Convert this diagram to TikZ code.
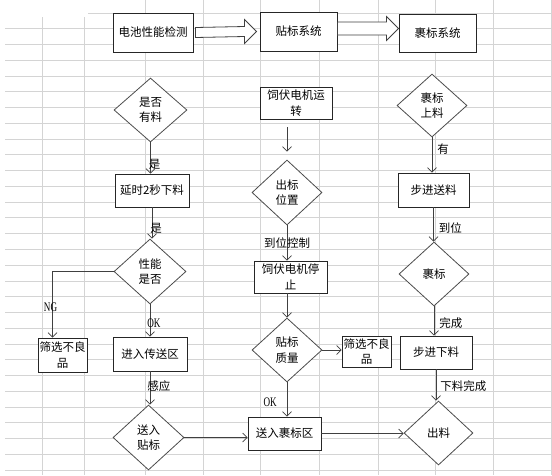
\documentclass[tikz,border=0pt]{standalone}
\usepackage{fontspec}
\setmainfont{Noto Sans CJK SC}
\newfontfamily\okfont[FakeStretch=0.7]{Liberation Serif}
\usetikzlibrary{shapes.geometric,arrows.meta,calc}

\newcommand\cjksize{\fontsize{11.5}{15.5}\selectfont}
\tikzset{
  box/.style={draw=black!85,line width=0.9pt,fill=white,rectangle,inner sep=0pt,align=center,font=\cjksize},
  dia/.style={draw=black!70,line width=0.8pt,fill=white,diamond,inner sep=0pt,align=center,font=\cjksize},
  link/.style={draw=black!75,line width=0.7pt,->},
  lbl/.style={inner sep=0pt,font=\cjksize},
  oklbl/.style={inner sep=0pt,font=\okfont\fontsize{13}{13}\selectfont},
  gridline/.style={draw=black!17,line width=0.8pt},
  hollow/.style={draw=black!75,line width=0.8pt,fill=white}
}
% hollow block arrow: start, tip, half width of the shaft
\newcommand\hollowarrow[3]{%
  \draw[hollow] ($(#1)+(2,-#3)$) -- ($(#2)+(-12,-#3)$) -- ($(#2)+(-12,-12)$) -- (#2)
    -- ($(#2)+(-12,12)$) -- ($(#2)+(-12,#3)$) -- ($(#1)+(2,#3)$) -- cycle;}

\begin{document}
\begin{tikzpicture}[x=1pt,y=-1pt,>={Straight Barb[length=4.5pt,width=9pt]}]
        \useasboundingbox (0,0) rectangle (552,475);
        %% Sheet grid
        \draw[gridline] (88,13) -- (552,13);
        \foreach \k in {1,...,29}
          \draw[gridline] (5,{13+15.76*\k}) -- (552,{13+15.76*\k});
        \foreach \x in {42,84}
          \draw[gridline] (\x,17) -- (\x,475);
        \foreach \x in {145,203,260,319,378,435,493,551}
          \draw[gridline] (\x,0) -- (\x,475);
        %% Systems
        \node[box,minimum width=80pt,minimum height=39pt] (top1) at (153,32.5) {电池性能检测};
        \node[box,minimum width=77pt,minimum height=39pt] (top2) at (298.5,31.5) {贴标系统};
        \node[box,minimum width=77pt,minimum height=38pt] (top3) at (437.5,33) {裹标系统};
        \coordinate (tip1) at ($(top2.west)+(-3,0)$);
        \hollowarrow{top1.east}{tip1}{5}
        \coordinate (tail2) at ($(top2.east)+(-2,-3)$);
        \coordinate (tip2) at ($(top3.west)+(0,-4.5)$);
        \hollowarrow{tail2}{tip2}{6.5}
        %% Battery test
        \node[dia,minimum width=73pt,minimum height=64pt] (l1) at (150.5,110) {是否\\有料};
        \node[box,minimum width=74pt,minimum height=33pt] (l2) at (152,190.5) {延时2秒下料};
        \node[dia,minimum width=72pt,minimum height=65pt] (l3) at (150,271.5) {性能\\是否};
        \node[box,minimum width=49pt,minimum height=34pt] (l4) at (62.5,355) {筛选不良\\品};
        \node[box,minimum width=74pt,minimum height=34pt] (l5) at (150,354) {进入传送区};
        \node[dia,minimum width=71pt,minimum height=65pt] (l6) at (148.5,437.5) {送入\\贴标};
        \draw[link] (l1.south) -- (l1.south |- l2.north) node[lbl,pos=0.69,anchor=west,xshift=-2pt] {是};
        \draw[link] (l2.south) -- (l2.south |- l3.north) node[lbl,pos=0.66,anchor=west,xshift=-2pt] {是};
        \draw[link] (l3.west) -| ($(l4.north west)!0.3!(l4.north east)$) node[oklbl,pos=0.77,xshift=-2pt] {NG};
        \draw[link] (l3.south) -- (l3.south |- l5.north) node[oklbl,pos=0.58,anchor=west,xshift=-3pt] {OK};
        \draw[link] (l5.south) -- (l5.south |- l6.north) node[lbl,pos=0.44,anchor=west,xshift=-3pt] {感应};
        %% Labelling
        \node[box,minimum width=72pt,minimum height=32pt] (m1) at (296,103) {饲伏电机运\\转};
        \node[dia,minimum width=70pt,minimum height=65pt] (m2) at (287,192.5) {出标\\位置};
        \node[box,minimum width=73pt,minimum height=32pt] (m3) at (290.5,277) {饲伏电机停\\止};
        \node[dia,minimum width=70pt,minimum height=64pt] (m4) at (287,350) {贴标\\质量};
        \node[box,minimum width=49pt,minimum height=31pt] (m5) at (366.5,351.5) {筛选不良\\品};
        \node[box,minimum width=73pt,minimum height=33pt] (m6) at (284.5,433.5) {送入裹标区};
        \draw[link] (l6.east) -- (l6.east -| m6.west);
        \draw[link,shorten <=8pt,shorten >=8pt] (m2.north |- m1.south) -- (m2.north);
        \draw[link] (m2.south) -- (m2.south |- m3.north) node[lbl,pos=0.5] {到位控制};
        \draw[link] (m4.north |- m3.south) -- (m4.north);
        \draw[link] (m4.east) -- (m4.east -| m5.west);
        \draw[link] (m4.south) -- (m4.south |- m6.north) node[oklbl,pos=0.57,anchor=east,xshift=-10pt] {OK};
        %% Wrapping
        \node[dia,minimum width=70pt,minimum height=63pt] (r1) at (432,105.5) {裹标\\上料};
        \node[box,minimum width=71pt,minimum height=34pt] (r2) at (433.5,190) {步进送料};
        \node[dia,minimum width=70pt,minimum height=64pt] (r3) at (434,274) {裹标};
        \node[box,minimum width=72pt,minimum height=33pt] (r4) at (436,352.5) {步进下料};
        \node[dia,minimum width=69pt,minimum height=64pt] (r5) at (438.5,433) {出料};
        \draw[link] (m6.east) -- (m6.east -| r5.west);
        \draw[link] (r1.south) -- (r1.south |- r2.north) node[lbl,pos=0.33,anchor=west,xshift=5pt] {有};
        \draw[link] (r2.south) -- (r2.south |- r3.north) node[lbl,pos=0.6,anchor=west,xshift=5pt] {到位};
        \draw[link] (r3.south) -- (r3.south |- r4.north) node[lbl,pos=0.57,anchor=west,xshift=5pt] {完成};
        \draw[link] (r4.south) -- (r4.south |- r5.north) node[lbl,pos=0.55,anchor=west,xshift=4pt] {下料完成};
    \end{tikzpicture}
\end{document}
